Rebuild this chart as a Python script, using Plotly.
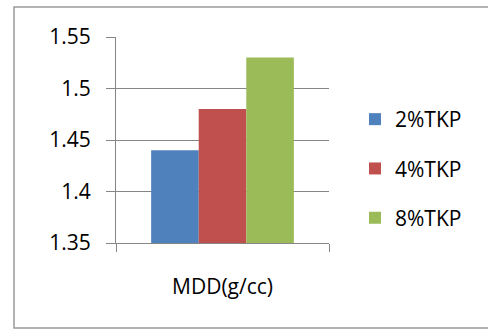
import plotly.graph_objects as go

# Maximum dry density for each TKP dosage
categories = ["MDD(g/cc)"]
series_names = ["2%TKP", "4%TKP", "8%TKP"]
mdd_2 = [1.44]
mdd_4 = [1.48]
mdd_8 = [1.53]
series_values = [mdd_2, mdd_4, mdd_8]
colors = ["#4F81BD", "#C0504D", "#9BBB59"]
y_ticks = [1.35, 1.4, 1.45, 1.5, 1.55]

W, H = 488, 329
L, R, T, B = 116, 329, 37, 243  # plot-area edges in pixels

fig = go.Figure()
for i, (name, vals, col) in enumerate(zip(series_names, series_values, colors)):
    fig.add_trace(go.Bar(
        x=categories, y=vals, name=name,
        marker=dict(color=col, line=dict(width=0)),
        legendgroup=f"g{i}",
    ))

def px_x(p):
    return (p - L) / (R - L)

def px_y(p):
    return (B - p) / (B - T)

font = "Open Sans, Arial, sans-serif"

fig.update_layout(
    width=W, height=H,
    margin=dict(l=L, r=W - R, t=T, b=H - B),
    paper_bgcolor="white", plot_bgcolor="white",
    barmode="group", bargap=0.33, bargroupgap=0,
    font=dict(family=font, size=21, color="#000000"),
    showlegend=True,
    legend=dict(
        x=px_x(355), xanchor="left",
        y=px_y(99), yanchor="top",
        traceorder="grouped", tracegroupgap=19,
        font=dict(size=21, family=font),
        bgcolor="rgba(0,0,0,0)",
    ),
    xaxis=dict(
        showline=True, linecolor="#868686", linewidth=1,
        ticks="outside", tickson="boundaries", ticklen=8,
        tickcolor="#868686", showgrid=False,
        ticklabelstandoff=25,
    ),
    yaxis=dict(
        range=[1.35, 1.55], tickvals=y_ticks,
        ticktext=[f"{v:g}" for v in y_ticks],
        showline=True, linecolor="#868686", linewidth=1,
        ticks="outside", ticklen=9, tickcolor="#868686",
        showgrid=True, gridcolor="#868686", gridwidth=1,
        zeroline=False, ticklabelstandoff=11,
    ),
    shapes=[dict(
        type="rect", xref="paper", yref="paper",
        x0=px_x(14), x1=px_x(520), y0=px_y(328), y1=px_y(7),
        line=dict(color="#9a9a9a", width=1.5), layer="below",
    )],
)

fig.write_html("out.html")
